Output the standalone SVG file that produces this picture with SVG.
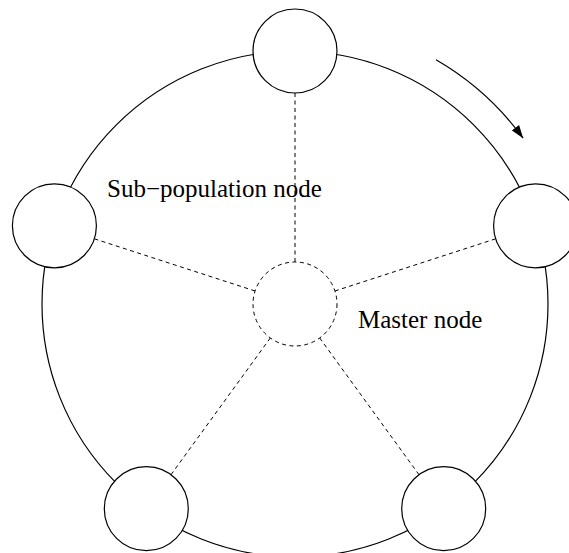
<svg xmlns="http://www.w3.org/2000/svg" width="569" height="553" viewBox="0 0 569 553">
<style>
.ring{fill:none;stroke:#000;stroke-width:1.2}
.node{fill:#fff;stroke:#000;stroke-width:1.2}
.master{fill:none;stroke:#000;stroke-width:1;stroke-dasharray:4,3.5}
.dash{stroke:#000;stroke-width:1;stroke-dasharray:4,3.5;fill:none}
.lbl{font-family:"Liberation Serif","Times New Roman",serif;font-size:25px;fill:#000}
</style>
<defs>
<marker id="ah" markerWidth="14" markerHeight="10" refX="13" refY="5" orient="auto" markerUnits="userSpaceOnUse">
<path d="M0,0.5 L13,5 L0,9.5 Z" fill="#000"/>
</marker>
</defs>
<rect width="569" height="553" fill="#fff"/>
<circle class="ring" cx="295" cy="304" r="253"/>
<g id="connectors">
<line class="dash" x1="295" y1="262" x2="295" y2="93"/>
<line class="dash" x1="334.9" y1="291" x2="495.7" y2="238.8"/>
<line class="dash" x1="319.7" y1="338" x2="419" y2="474.7"/>
<line class="dash" x1="270.3" y1="338" x2="171" y2="474.7"/>
<line class="dash" x1="255.1" y1="291" x2="94.3" y2="238.8"/>
<path class="ring" d="M436,59.8 A282,282 0 0 1 523.1,138.2" marker-end="url(#ah)"/>
</g>
<g id="master"><circle class="master" cx="295" cy="304" r="42"/></g>
<g id="node-top"><circle class="node" cx="295" cy="51" r="42"/></g>
<g id="node-right"><circle class="node" cx="535.6" cy="225.8" r="42"/></g>
<g id="node-bottom-right"><circle class="node" cx="443.7" cy="508.7" r="42"/></g>
<g id="node-bottom-left"><circle class="node" cx="146.3" cy="508.7" r="42"/></g>
<g id="node-left"><circle class="node" cx="54.4" cy="225.8" r="42"/></g>
<text class="lbl" x="107" y="197">Sub−population node</text>
<text class="lbl" x="358" y="328">Master node</text>
</svg>
